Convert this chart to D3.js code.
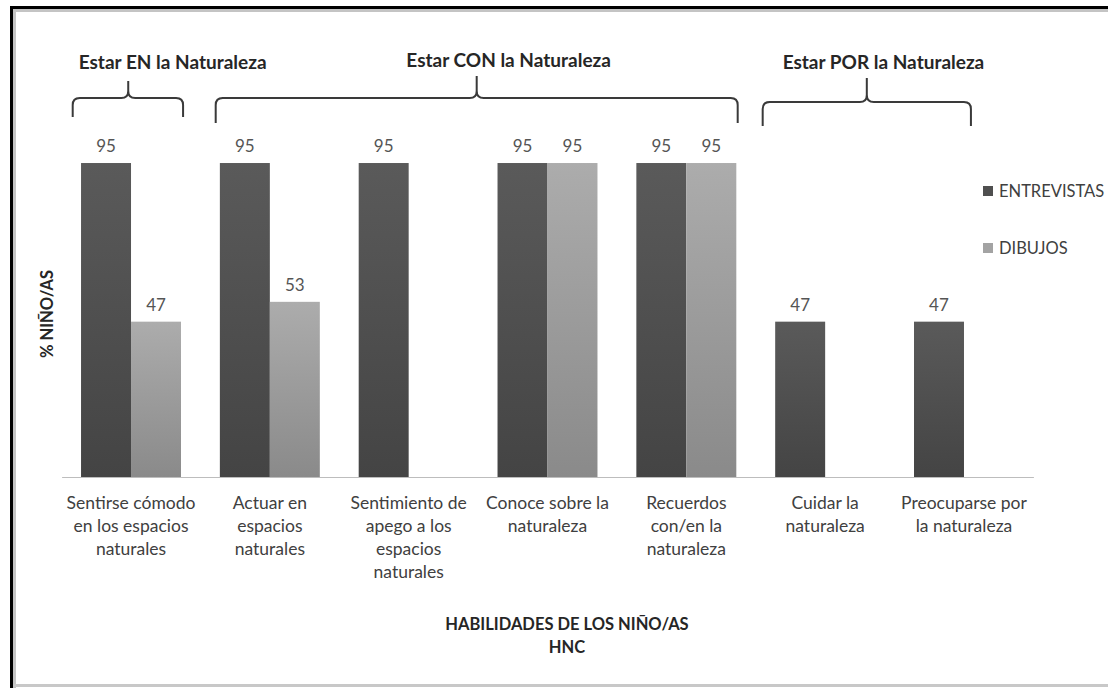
<!DOCTYPE html>
<html>
<head>
<meta charset="utf-8">
<script src="https://cdn.jsdelivr.net/npm/d3@7"></script>
<style>
  html, body { margin: 0; padding: 0; background: #fff; }
  svg { display: block; font-family: Lato, "Liberation Sans", sans-serif; }
</style>
</head>
<body>
<svg id="chart" width="1108" height="688"></svg>
<script>
// Categories (skills), split over lines as they wrap under the axis
const categories = [
  ["Sentirse cómodo", "en los espacios", "naturales"],
  ["Actuar en", "espacios", "naturales"],
  ["Sentimiento de", "apego a los", "espacios", "naturales"],
  ["Conoce sobre la", "naturaleza"],
  ["Recuerdos", "con/en la", "naturaleza"],
  ["Cuidar la", "naturaleza"],
  ["Preocuparse por", "la naturaleza"]
];
const series = ["ENTREVISTAS", "DIBUJOS"];
const entrevistas = [95, 95, 95, 95, 95, 47, 47];
const dibujos = [47, 53, null, 95, 95, null, null];

// Group braces above the bars, expressed in category units (0 = first category centre)
const groupLabels = ["Estar EN la Naturaleza", "Estar CON la Naturaleza", "Estar POR la Naturaleza"];
const groupFrom = [-0.42, 0.61, 4.55];
const groupTo = [0.375, 4.37, 6.05];
const groupTip = [-0.02, 2.49, 5.3];
const groupLabelAt = [0.3, 2.72, 5.42];

const yTitle = "% NIÑO/AS";
const xTitle = ["HABILIDADES DE LOS NIÑO/AS", "HNC"];

const svg = d3.select("#chart");
const W = 1108, H = 688;
svg.append("rect").attr("width", W).attr("height", H).attr("fill", "#fff");

const defs = svg.append("defs");
function grad(id, top, bottom) {
  const g = defs.append("linearGradient").attr("id", id)
    .attr("x1", 0).attr("y1", 0).attr("x2", 0).attr("y2", 1);
  g.append("stop").attr("offset", "0%").attr("stop-color", top);
  g.append("stop").attr("offset", "100%").attr("stop-color", bottom);
}
grad("gDark", "#5a5a5a", "#444444");
grad("gLight", "#acacac", "#8a8a8a");
const fills = { ENTREVISTAS: "url(#gDark)", DIBUJOS: "url(#gLight)" };
const legendFill = { ENTREVISTAS: "#4f4f4f", DIBUJOS: "#a3a3a3" };

// Frame: thick dark edge at top/left, light edge at bottom
svg.append("rect").attr("x", 10).attr("y", 6).attr("width", W - 10).attr("height", 3).attr("fill", "#000");
svg.append("rect").attr("x", 10).attr("y", 6).attr("width", 3).attr("height", H - 6).attr("fill", "#000");
svg.append("rect").attr("x", 13).attr("y", 9).attr("width", W - 13).attr("height", 3).attr("fill", "#c4c4c4");
svg.append("rect").attr("x", 13).attr("y", 9).attr("width", 3).attr("height", H - 9).attr("fill", "#c4c4c4");
svg.append("rect").attr("x", 13).attr("y", 684).attr("width", W - 13).attr("height", 3).attr("fill", "#c8c8c8");

// Scales
const keys = categories.map((c, i) => i);
const x0 = d3.scaleBand().domain(keys).range([61.6, 1033.4]).paddingInner(0.28).paddingOuter(0.14);
const x1 = d3.scaleBand().domain(series).range([0, x0.bandwidth()]);
const y = d3.scaleLinear().domain([0, 100]).range([477, 146.5]);
const centre = i => x0(i) + x0.bandwidth() / 2;
const catPos = d3.scaleLinear().domain([0, 1]).range([centre(0), centre(1)]);

const rows = keys.map(i => ({ i, values: [
  { key: "ENTREVISTAS", v: entrevistas[i] },
  { key: "DIBUJOS", v: dibujos[i] }
].filter(d => d.v != null) }));

// Bars
const groups = svg.append("g").selectAll("g").data(rows).join("g")
  .attr("transform", d => `translate(${x0(d.i)},0)`);
groups.selectAll("rect").data(d => d.values).join("rect")
  .attr("x", d => x1(d.key))
  .attr("y", d => y(d.v))
  .attr("width", x1.bandwidth())
  .attr("height", d => y(0) - y(d.v))
  .attr("fill", d => fills[d.key]);

// Value labels
groups.selectAll("text").data(d => d.values).join("text")
  .attr("x", d => x1(d.key) + x1.bandwidth() / 2)
  .attr("y", d => y(d.v) - 11)
  .attr("text-anchor", "middle")
  .attr("font-size", 17)
  .attr("fill", "#555")
  .text(d => d.v);

// Category axis (line only, labels wrapped)
const xAxis = d3.axisBottom(x0).tickSize(0).tickFormat("");
const ax = svg.append("g").attr("transform", `translate(0,${y(0)})`).call(xAxis);
ax.select(".domain").attr("stroke", "#bdbdbd").attr("stroke-width", 1.2);
ax.selectAll(".tick").each(function(i) {
  const t = d3.select(this).append("text")
    .attr("text-anchor", "middle").attr("font-size", 17.5).attr("fill", "#404040")
    .attr("font-family", "Lato, sans-serif");
  categories[i].forEach((line, k) => {
    t.append("tspan").attr("x", 0).attr("y", 32 + k * 23).text(line);
  });
});

// Braces
const braceG = svg.append("g");
groupLabels.forEach((label, k) => {
  const a = catPos(groupFrom[k]), b = catPos(groupTo[k]), m = catPos(groupTip[k]);
  const hy = k === 2 ? 102 : 98;
  const yEnd = k === 0 ? 117 : (k === 1 ? 123 : 126);
  const yTip = k === 0 ? 81 : (k === 1 ? 76 : 78);
  const r = 7;
  const p = d3.path();
  p.moveTo(a, yEnd);
  p.lineTo(a, hy + r);
  p.quadraticCurveTo(a, hy, a + r, hy);
  p.lineTo(m - r, hy);
  p.quadraticCurveTo(m, hy, m, hy - r);
  p.lineTo(m, yTip);
  p.moveTo(m, hy - r);
  p.quadraticCurveTo(m, hy, m + r, hy);
  p.lineTo(b - r, hy);
  p.quadraticCurveTo(b, hy, b, hy + r);
  p.lineTo(b, yEnd);
  braceG.append("path").attr("d", p.toString())
    .attr("fill", "none").attr("stroke", "#3a3a3a").attr("stroke-width", 2);
  braceG.append("text").attr("x", catPos(groupLabelAt[k])).attr("y", k === 1 ? 67 : 69)
    .attr("text-anchor", "middle").attr("font-weight", "bold").attr("font-size", 19)
    .attr("fill", "#262626").text(label);
});

// Legend
const leg = svg.append("g").selectAll("g").data(series).join("g")
  .attr("transform", (d, i) => `translate(983,${186 + i * 57})`);
leg.append("rect").attr("width", 10).attr("height", 10).attr("fill", d => legendFill[d]);
leg.append("text").attr("x", 16).attr("y", 10.5).attr("font-size", 16.5).attr("fill", "#404040").text(d => d);

// Axis titles
svg.append("text").attr("transform", "translate(53,314) rotate(-90)")
  .attr("text-anchor", "middle").attr("font-weight", "bold").attr("font-size", 16.5)
  .attr("fill", "#262626").text(yTitle);
const xt = svg.append("text").attr("text-anchor", "middle").attr("font-weight", "bold")
  .attr("font-size", 16.5).attr("fill", "#262626");
xTitle.forEach((line, k) => xt.append("tspan").attr("x", 567).attr("y", 630 + k * 23).text(line));
</script>
</body>
</html>
